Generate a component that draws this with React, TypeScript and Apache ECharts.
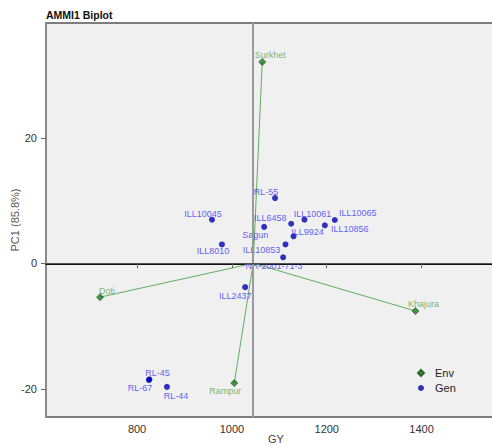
import React, { useEffect, useRef } from "react";
import * as echarts from "echarts";

// Genotypes: grain yield (GY) and first interaction principal component score
const genNames = [
  "RL-55", "ILL10045", "ILL6458", "ILL10061", "ILL10065", "ILL10856", "ILL9924",
  "Sagun", "ILL8010", "ILL10853", "NR-2001-71-3", "ILL2437", "RL-45", "RL-67", "RL-44",
];
const genGY = [1091, 958, 1125, 1153, 1217, 1196, 1130, 1068, 979, 1113, 1108, 1028, 826, 825, 863];
const genPC1 = [10.4, 6.95, 6.3, 6.95, 6.9, 6.05, 4.3, 5.8, 3.0, 3.0, 0.95, -3.8, -18.5, -18.6, -19.7];

// Environments
const envNames = ["Surkhet", "Doti", "Khajura", "Rampur"];
const envGY = [1064, 722, 1387, 1005];
const envPC1 = [32.1, -5.4, -7.6, -19.1];

// Grand mean of GY (vertical reference line) and tick values
const grandMean = 1045;
const xTicks = [800, 1000, 1200, 1400];
const yTicks = [-20, 0, 20];

// Label placement (pixel offsets of label centre from its marker)
const labelOffset: Record<string, [number, number]> = {
  "RL-55": [-9, -6],
  ILL10045: [-9, -6],
  ILL6458: [-21, -6],
  ILL10061: [8, -6],
  ILL10065: [23, -7],
  ILL10856: [25, 4],
  ILL9924: [14, -4],
  Sagun: [-9, 8],
  ILL8010: [-9, 7],
  ILL10853: [-24, 6],
  "NR-2001-71-3": [-9, 9],
  ILL2437: [-10, 9],
  "RL-45": [8, -6],
  "RL-67": [-9, 8],
  "RL-44": [9, 9],
  Surkhet: [8, -7],
  Doti: [7, -6],
  Khajura: [8, -7],
  Rampur: [-9, 8],
};

const FONT = "Liberation Sans, Arial, sans-serif";
const GEN_LABEL = "#3434f4";
const ENV_LABEL = "#5fa046";

export default function App() {
  const ref = useRef<HTMLDivElement>(null);

  useEffect(() => {
    document.body.style.margin = "0";
    if (!ref.current) return;
    const chart = echarts.init(ref.current, null, { renderer: "svg" });

    const pointLabel = (name: string, color: string) => ({
      show: true,
      position: "inside" as const,
      offset: labelOffset[name] || [0, 0],
      formatter: name,
      color,
      fontSize: 9,
      fontFamily: FONT,
      align: "center" as const,
      verticalAlign: "middle" as const,
    });

    const envData = envNames.map((n, i) => ({
      name: n,
      value: [envGY[i], envPC1[i]],
      label: pointLabel(n, ENV_LABEL),
    }));
    const genData = genNames.map((n, i) => ({
      name: n,
      value: [genGY[i], genPC1[i]],
      label: pointLabel(n, GEN_LABEL),
    }));
    const segments = envNames.map((n, i) => ({
      coords: [
        [grandMean, 0],
        [envGY[i], envPC1[i]],
      ],
    }));

    chart.setOption({
      animation: false,
      backgroundColor: "#ffffff",
      title: {
        text: "AMMI1 Biplot",
        left: 46,
        top: 9,
        padding: 0,
        textStyle: { fontSize: 10.5, fontWeight: "bold", color: "#111", fontFamily: FONT },
      },
      legend: {
        left: 417,
        top: 367,
        padding: 0,
        orient: "vertical",
        itemWidth: 6,
        itemHeight: 6,
        itemGap: 3,
        data: [
          { name: "Env", icon: "diamond" },
          { name: "Gen", icon: "circle" },
        ],
        textStyle: { fontSize: 11, color: "#222", fontFamily: FONT, lineHeight: 12, padding: [0, 0, 0, 6] },
      },
      grid: {
        left: 46,
        top: 23,
        bottom: 28,
        right: -14,
        containLabel: false,
        outerBoundsMode: "none",
        show: true,
        backgroundColor: "#f0f0f0",
        borderColor: "#555",
        borderWidth: 1.5,
      },
      xAxis: {
        type: "value",
        min: 608,
        max: 1578,
        name: "GY",
        nameLocation: "middle",
        nameGap: 16,
        nameMoveOverlap: false,
        nameTextStyle: { fontSize: 11, color: "#444", fontFamily: FONT, verticalAlign: "top", lineHeight: 11 },
        splitLine: { show: false },
        axisLine: { show: true, lineStyle: { color: "#111", width: 2 } },
        axisTick: { show: true, length: 5, lineStyle: { color: "#666" }, customValues: xTicks },
        axisLabel: {
          fontSize: 11,
          color: "#333",
          margin: 6,
          fontFamily: FONT,
          customValues: xTicks,
          formatter: (v: number) => String(v),
        },
      },
      yAxis: {
        type: "value",
        min: -24.5,
        max: 38.3,
        name: "PC1 (85.8%)",
        nameLocation: "middle",
        nameGap: 26,
        nameMoveOverlap: false,
        nameTextStyle: { fontSize: 11, color: "#555", fontFamily: FONT },
        splitLine: { show: false },
        axisLine: { show: true, lineStyle: { color: "#8a8a8a", width: 2 } },
        axisTick: { show: true, length: 5, lineStyle: { color: "#666" }, customValues: yTicks },
        axisLabel: {
          fontSize: 11,
          color: "#333",
          margin: 9,
          fontFamily: FONT,
          customValues: yTicks,
          formatter: (v: number) => String(v),
        },
      },
      series: [
        {
          type: "lines",
          coordinateSystem: "cartesian2d",
          silent: true,
          z: 2,
          lineStyle: { color: "#5fae5f", width: 1, opacity: 1 },
          data: segments,
          markLine: {
            silent: true,
            symbol: "none",
            label: { show: false },
            data: [
              { xAxis: grandMean, lineStyle: { color: "#9a9a9a", width: 2, type: "solid" } },
              { yAxis: 0, lineStyle: { color: "#555", width: 1, type: "solid" } },
            ],
          },
        },
        {
          name: "Env",
          type: "scatter",
          z: 4,
          symbol: "diamond",
          symbolSize: 7,
          itemStyle: { color: "#1f7a1f", borderColor: "#0d4d0d", borderWidth: 0.8 },
          data: envData,
        },
        {
          name: "Gen",
          type: "scatter",
          z: 4,
          symbol: "circle",
          symbolSize: 6,
          itemStyle: { color: "#0000b0" },
          data: genData,
        },
      ],
    });

    return () => chart.dispose();
  }, []);

  return <div ref={ref} style={{ width: 492, height: 445 }} />;
}
